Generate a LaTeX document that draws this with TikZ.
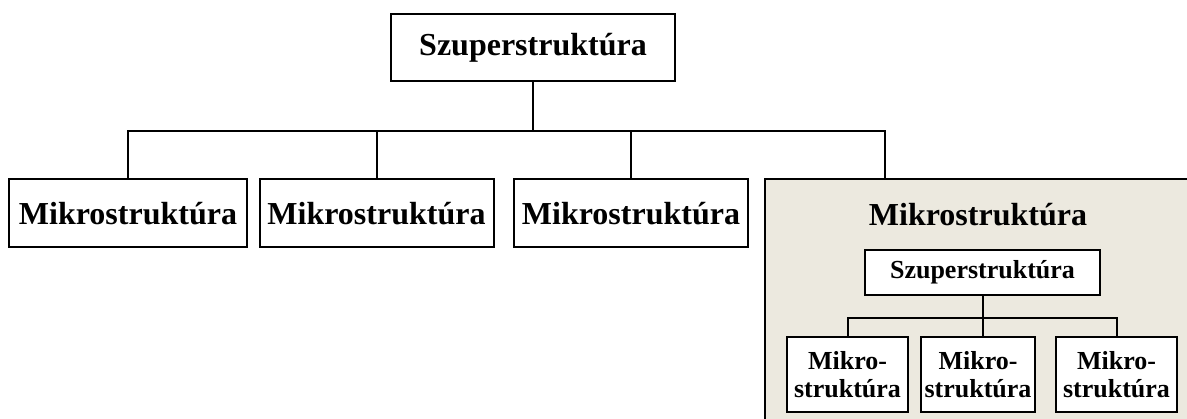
\documentclass[tikz,border=0pt]{standalone}
\usepackage{fontspec}
\setmainfont{Liberation Serif}
\usetikzlibrary{positioning}
\definecolor{panel}{HTML}{ECE9DF}

\begin{document}
\begin{tikzpicture}[x=1pt,y=-1pt,line width=2pt,
  bigbox/.style={draw,fill=white,inner sep=0pt,minimum height=68,
    font=\fontsize{32}{34}\selectfont\bfseries},
  smallbox/.style={draw,fill=white,inner sep=0pt,
    font=\fontsize{26}{28}\selectfont\bfseries},
  link/.style={line width=2pt}]
\useasboundingbox (0,0) rectangle (1187,419);
\clip (0,0) rectangle (1187,419);

% upper level
\node[bigbox,minimum width=284,minimum height=67] (szup) at (533,47.5) {Szuperstruktúra};
\node[bigbox,minimum width=238] (mik1) at (128,213.5) {Mikrostruktúra};
\node[bigbox,minimum width=234] (mik2) at (376.5,213.5) {Mikrostruktúra};
\node[bigbox,minimum width=234] (mik3) at (631,213.5) {Mikrostruktúra};

% the fourth one is opened up
\fill[panel] (765,179) rectangle (1200,430);
\draw (765,430) -- (765,179) -- (1200,179);
\coordinate (mik4) at (885,179);
\node[font=\fontsize{32}{34}\selectfont\bfseries] (title) at (978,215) {Mikrostruktúra};
\node[smallbox,minimum width=235,minimum height=45] (sub) at (982.5,272.5) {Szuperstruktúra};
\node[smallbox,minimum width=121,minimum height=75,align=center] (sm1) at (847.5,374.5) {Mikro-\\struktúra};
\node[smallbox,minimum width=114,minimum height=75,align=center] (sm2) at (978,374.5) {Mikro-\\struktúra};
\node[smallbox,minimum width=121,minimum height=75,align=center] (sm3) at (1116.5,374.5) {Mikro-\\struktúra};

\foreach \m in {mik1,mik2,mik3}
  \draw[link] (szup.south) -- +(0,49) -| (\m.north);
\draw[link] (szup.south) -- +(0,49) -| (mik4);
\draw[link] (sub.south) -- (sub.south |- sm2.north);
\foreach \m in {sm1,sm3}
  \draw[link] (sub.south) -- +(0,22) -| (\m.north);
\end{tikzpicture}
\end{document}
